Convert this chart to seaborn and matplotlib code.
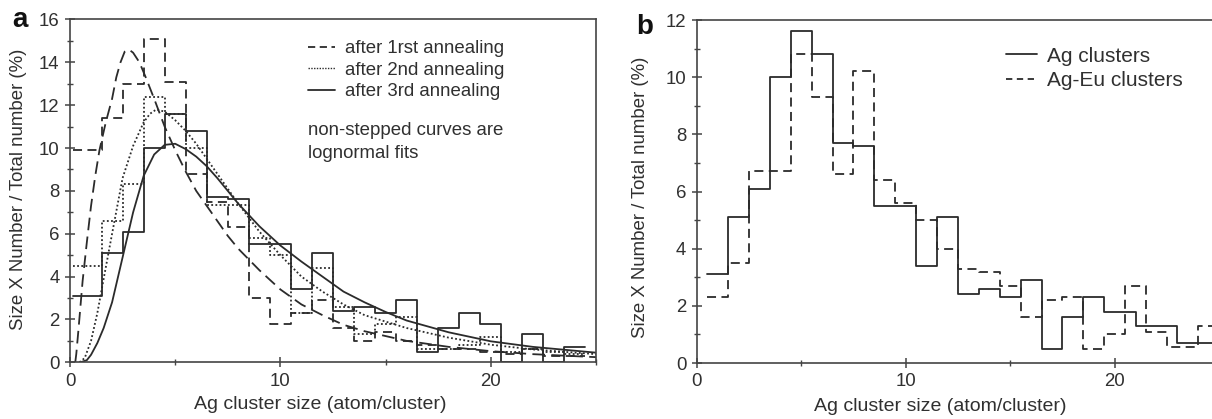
import matplotlib
matplotlib.use("Agg")
import pandas as pd
import matplotlib.pyplot as plt
from matplotlib.lines import Line2D
from matplotlib.ticker import MultipleLocator
import seaborn as sns

# ---------------- panel a: stepped histograms ----------------
edges_a = [0.15, 1.5, 2.5, 3.5, 4.5, 5.5, 6.5, 7.5, 8.5, 9.5, 10.5, 11.5, 12.5,
           13.5, 14.5, 15.5, 16.5, 17.5, 18.5, 19.5, 20.5, 21.5, 22.5, 23.5, 24.5]
anneal_1 = [9.9, 11.4, 13.0, 15.1, 13.1, 8.8, 7.5, 6.3, 3.0, 1.8, 2.3, 2.9,
            1.6, 1.0, 1.4, 1.0, 0.8, 0.6, 0.6, 0.5, 0.4, 0.6, 0.3, 0.3]
anneal_2 = [4.5, 6.6, 8.3, 12.4, 11.6, 10.0, 7.35, 7.35, 5.8, 5.0, 2.3, 4.4,
            2.6, 1.3, 1.8, 2.1, 0.6, 0.6, 0.8, 1.2, 0.5, 0.6, 0.5, 0.4]
anneal_3 = [3.1, 5.1, 6.1, 10.0, 11.6, 10.8, 7.7, 7.6, 5.5, 5.5, 3.4, 5.1,
            2.4, 2.6, 2.3, 2.9, 0.5, 1.6, 2.3, 1.8, 0.0, 1.3, 0.0, 0.7]

# lognormal fit curves
fit1_x = [0.25, 0.3, 0.4, 0.6, 0.8, 1.0, 1.2, 1.4, 1.7, 2.0, 2.2, 2.4, 2.6, 2.8, 3.0,
          3.3, 3.6, 4.0, 4.5, 5.0, 5.5, 6.0, 6.5, 7.0, 7.5, 8.0, 9.0, 10, 11, 12,
          13, 14, 16, 18, 20, 22, 25]
fit1_y = [0.0, 0.4, 1.5, 3.8, 5.6, 7.3, 8.7, 9.9, 11.2, 12.3, 13.3, 14.0, 14.5, 14.6,
          14.45, 14.0, 13.3, 12.3, 11.0, 9.9, 8.9, 8.0, 7.3, 6.6, 5.9, 5.3, 4.3,
          3.4, 2.7, 2.2, 1.75, 1.45, 1.0, 0.72, 0.52, 0.38, 0.24]
fit2_x = [0.45, 0.7, 1.0, 1.3, 1.6, 2.0, 2.5, 3.0, 3.5, 3.8, 4.1, 4.5, 5.0, 5.5,
          6.0, 6.5, 7.0, 7.5, 8.0, 9.0, 10, 11, 12, 13, 14, 16, 18, 20, 22, 25]
fit2_y = [0.0, 0.2, 1.0, 2.3, 3.9, 6.0, 8.6, 10.1, 11.2, 11.6, 11.8, 11.7, 11.3,
          10.8, 10.2, 9.5, 8.8, 8.1, 7.4, 6.1, 5.0, 4.0, 3.3, 2.7, 2.2, 1.6, 1.15,
          0.82, 0.6, 0.38]
fit3_x = [0.5, 0.8, 1.0, 1.3, 1.6, 2.0, 2.5, 3.0, 3.5, 4.0, 4.5, 5.0, 5.5, 6.0,
          6.5, 7.0, 7.5, 8.0, 9.0, 10, 11, 12, 13, 14, 15, 16, 18, 20, 22, 25]
fit3_y = [0.0, 0.1, 0.35, 0.9, 1.6, 2.8, 4.9, 7.0, 8.7, 9.7, 10.15, 10.2, 9.95,
          9.6, 9.15, 8.6, 8.0, 7.4, 6.35, 5.45, 4.7, 4.0, 3.3, 2.8, 2.35, 1.95,
          1.4, 0.98, 0.72, 0.45]

# ---------------- panel b ----------------
edges_ag = [0.5, 1.5, 2.5, 3.5, 4.5, 5.5, 6.5, 7.5, 8.5, 9.5, 10.5, 11.5, 12.5,
            13.5, 14.5, 15.5, 16.5, 17.5, 18.5, 19.5, 21.0, 23.0, 25.0]
ag_clusters = [3.1, 5.1, 6.1, 10.0, 11.6, 10.8, 7.7, 7.6, 5.5, 5.5, 3.4, 5.1,
               2.4, 2.6, 2.3, 2.9, 0.5, 1.6, 2.3, 1.8, 1.3, 0.7]
edges_ageu = [0.5, 1.5, 2.5, 3.5, 4.5, 5.5, 6.5, 7.5, 8.5, 9.5, 10.5, 11.5, 12.5,
              13.5, 14.5, 15.5, 16.5, 17.5, 18.5, 19.5, 20.5, 21.5, 22.5, 24.0, 25.0]
ageu_clusters = [2.3, 3.5, 6.7, 6.7, 10.8, 9.3, 6.6, 10.2, 6.4, 5.6, 5.0, 4.0,
                 3.3, 3.2, 2.7, 1.6, 2.2, 2.3, 0.5, 1.0, 2.7, 1.1, 0.55, 1.3]

legend_a = ["after 1rst annealing", "after 2nd annealing", "after 3rd annealing"]
legend_b = ["Ag clusters", "Ag-Eu clusters"]

sns.set_theme(style="ticks")
plt.rcParams["font.family"] = ["Liberation Sans", "DejaVu Sans"]
INK = "#2b2b2b"
TXT = "#303030"

DASH_FIT = (0, (7, 3.5))
DASH_HIST = (0, (5, 3))
DOT = (0, (1, 1.3))


def step_hist(ax, edges, values, ls, lw=1.3):
    e = [float(v) for v in edges]
    df = pd.DataFrame({"size": [(a + b) / 2 for a, b in zip(e[:-1], e[1:])],
                       "pct": [float(v) for v in values]})
    sns.histplot(data=df, x="size", weights="pct", bins=e, element="step",
                 fill=False, color=INK, linestyle=ls, linewidth=lw, ax=ax)


def style_axes(ax, ymax):
    ax.set_xlim(0, 25)
    ax.set_ylim(0, ymax)
    ax.xaxis.set_major_locator(MultipleLocator(10))
    ax.xaxis.set_minor_locator(MultipleLocator(5))
    ax.yaxis.set_major_locator(MultipleLocator(2))
    ax.yaxis.set_minor_locator(MultipleLocator(1))
    ax.tick_params(which="major", direction="inout", length=7, width=1.1,
                   color="#444444", labelcolor=TXT, labelsize=13.4, pad=4)
    ax.tick_params(which="minor", direction="inout", length=4, width=1.0,
                   color="#444444")
    for sp in ax.spines.values():
        sp.set_visible(True)
        sp.set_color("#444444")
        sp.set_linewidth(1.2)
    ax.set_ylabel("Size X Number / Total number (%)", fontsize=13.4, color=TXT)
    ax.set_xlabel("Ag cluster size (atom/cluster)", fontsize=14, color=TXT)


fig = plt.figure(figsize=(12.12, 4.19), dpi=100)
W, H = 1212, 419
axa = fig.add_axes([70 / W, 1 - 362.3 / H, 526 / W, 342.8 / H])
axb = fig.add_axes([696.7 / W, 1 - 363 / H, 522.5 / W, 343 / H])

# panel a
step_hist(axa, edges_a, anneal_1, DASH_HIST)
step_hist(axa, edges_a, anneal_2, DOT)
step_hist(axa, edges_a, anneal_3, "-")
sns.lineplot(x=fit1_x, y=fit1_y, ax=axa, color=INK, linestyle=DASH_FIT, linewidth=1.3)
sns.lineplot(x=fit2_x, y=fit2_y, ax=axa, color=INK, linestyle=DOT, linewidth=1.3)
sns.lineplot(x=fit3_x, y=fit3_y, ax=axa, color=INK, linestyle="-", linewidth=1.3)
style_axes(axa, 16)
axa.xaxis.set_label_coords(0.475, -0.098)
axa.yaxis.set_label_coords(-0.082, 0.504)

handles_a = [Line2D([], [], color=INK, lw=1.3, linestyle=(0, (4, 2.5))),
             Line2D([], [], color=INK, lw=1.0, linestyle=(0, (1, 1))),
             Line2D([], [], color=INK, lw=1.3)]
axa.legend(handles_a, legend_a, loc="upper left", bbox_to_anchor=(0.4525, 0.94),
           frameon=False, borderpad=0, borderaxespad=0, fontsize=13.4,
           handlelength=1.45, handletextpad=0.54, labelspacing=0.25,
           labelcolor=TXT)
axa.text(0.4525, 0.677, "non-stepped curves are", transform=axa.transAxes,
         fontsize=13.4, color=TXT, va="center")
axa.text(0.4525, 0.61, "lognormal fits", transform=axa.transAxes,
         fontsize=13.4, color=TXT, va="center")

# panel b
step_hist(axb, edges_ag, ag_clusters, "-")
step_hist(axb, edges_ageu, ageu_clusters, DASH_HIST)
style_axes(axb, 12)
axb.xaxis.set_label_coords(0.466, -0.103)
axb.yaxis.set_label_coords(-0.092, 0.484)
handles_b = [Line2D([], [], color=INK, lw=1.3),
             Line2D([], [], color=INK, lw=1.3, linestyle=(0, (3.5, 2.5)))]
axb.legend(handles_b, legend_b, loc="upper left", bbox_to_anchor=(0.592, 0.922),
           frameon=False, borderpad=0, borderaxespad=0, fontsize=15,
           handlelength=1.48, handletextpad=0.51, labelspacing=0.25,
           labelcolor=TXT)

fig.text(12 / W, 1 - 27 / H, "a", fontsize=20, fontweight="bold", color="#111111")
fig.text(636 / W, 1 - 34 / H, "b", fontsize=20, fontweight="bold", color="#111111")

fig.savefig("out.png", dpi=100)
